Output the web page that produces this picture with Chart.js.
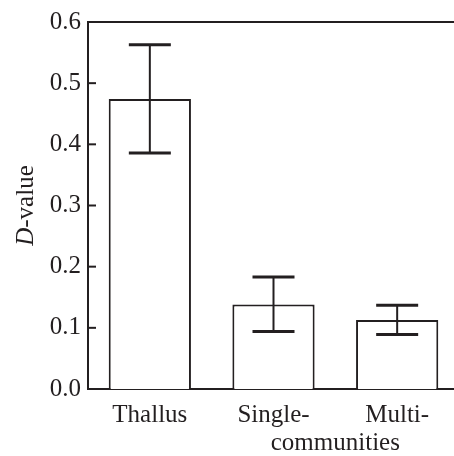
<!DOCTYPE html>
<html>
<head>
<meta charset="utf-8">
<script src="https://cdn.jsdelivr.net/npm/chart.js@4"></script>
<style>
  html, body { margin: 0; padding: 0; background: #fff; overflow: hidden; }
  #wrap { position: relative; width: 470px; height: 456px; }
</style>
</head>
<body>
<div id="wrap"><canvas id="chart"></canvas></div>
<script>
// dados
const categories = ['Thallus', 'Single-', 'Multi-'];
const meanValues = [0.474, 0.138, 0.113];
const upperValues = [0.563, 0.183, 0.137];
const lowerValues = [0.386, 0.094, 0.089];
const yTicks = [0.0, 0.1, 0.2, 0.3, 0.4, 0.5, 0.6];
const sharedLabel = 'communities';

const ink = '#231f20';
const serif = '"Liberation Serif", "Times New Roman", serif';

// desenha moldura superior, ticks internos, barras de erro e textos extras
const extras = {
    id: 'extras',
    afterDatasetsDraw(chart) {
        const { ctx, chartArea, scales } = chart;
        const x = scales.x, y = scales.y;
        ctx.save();
        ctx.strokeStyle = ink;
        ctx.lineCap = 'butt';

        // linha superior
        ctx.lineWidth = 2;
        ctx.beginPath();
        ctx.moveTo(chartArea.left - 1, chartArea.top);
        ctx.lineTo(chart.width, chartArea.top);
        ctx.stroke();

        // ticks para dentro
        yTicks.forEach(v => {
            const py = y.getPixelForValue(v);
            ctx.beginPath();
            ctx.moveTo(chartArea.left, py);
            ctx.lineTo(chartArea.left + 8, py);
            ctx.stroke();
        });

        // barras de erro
        categories.forEach((c, i) => {
            const px = x.getPixelForValue(i);
            const top = y.getPixelForValue(upperValues[i]);
            const bot = y.getPixelForValue(lowerValues[i]);
            ctx.lineWidth = 2;
            ctx.beginPath();
            ctx.moveTo(px, top);
            ctx.lineTo(px, bot);
            ctx.stroke();
            ctx.lineWidth = 3;
            ctx.beginPath();
            ctx.moveTo(px - 21, top);
            ctx.lineTo(px + 21, top);
            ctx.moveTo(px - 21, bot);
            ctx.lineTo(px + 21, bot);
            ctx.stroke();
        });

        ctx.fillStyle = ink;
        // segunda linha compartilhada
        ctx.font = '25px ' + serif;
        ctx.textAlign = 'center';
        ctx.textBaseline = 'alphabetic';
        const mid = (x.getPixelForValue(1) + x.getPixelForValue(2)) / 2;
        ctx.fillText(sharedLabel, mid, 450);

        // titulo do eixo y: D italico + "-value"
        const cy = (chartArea.top + chartArea.bottom) / 2;
        ctx.translate(33, cy);
        ctx.rotate(-Math.PI / 2);
        ctx.textAlign = 'left';
        ctx.font = 'italic 25px ' + serif;
        const wD = ctx.measureText('D').width;
        ctx.font = '25px ' + serif;
        const wRest = ctx.measureText('-value').width;
        const start = -(wD + wRest) / 2;
        ctx.font = 'italic 25px ' + serif;
        ctx.fillText('D', start, 0);
        ctx.font = '25px ' + serif;
        ctx.fillText('-value', start + wD, 0);
        ctx.restore();
    }
};

new Chart(document.getElementById('chart'), {
    type: 'bar',
    data: {
        labels: categories,
        datasets: [{
            data: meanValues,
            backgroundColor: '#ffffff',
            borderColor: ink,
            borderWidth: 2,
            borderSkipped: 'bottom',
            barPercentage: 0.665,
            categoryPercentage: 1.0,
        }]
    },
    options: {
        responsive: true,
        maintainAspectRatio: false,
        animation: false,
        layout: { padding: { top: 19, right: 11, left: 0, bottom: 0 } },
        plugins: {
            legend: { display: false },
            tooltip: { enabled: false },
        },
        scales: {
            x: {
                grid: { display: false, drawTicks: false },
                border: { display: true, color: ink, width: 2 },
                ticks: {
                    color: ink,
                    font: { family: serif, size: 25 },
                    padding: 11,
                    maxRotation: 0,
                },
                afterFit: (s) => { s.height = 67; },
            },
            y: {
                min: 0,
                max: 0.6,
                grid: { display: false, drawTicks: false },
                border: { display: true, color: ink, width: 2 },
                ticks: {
                    stepSize: 0.1,
                    color: ink,
                    font: { family: serif, size: 25 },
                    padding: 7,
                    callback: (v) => Number(v).toFixed(1),
                },
                afterFit: (s) => { s.width = 88; },
            }
        }
    },
    plugins: [extras]
});
</script>
</body>
</html>
